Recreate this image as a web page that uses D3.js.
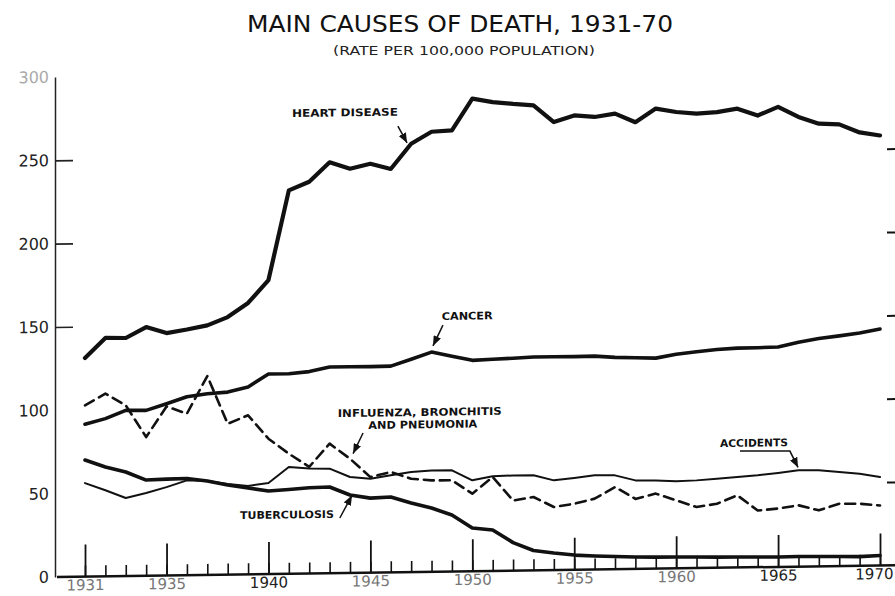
<!DOCTYPE html>
<html>
<head>
<meta charset="utf-8">
<script src="https://cdn.jsdelivr.net/npm/d3@7"></script>
<style>
  body { margin: 0; background: #fff; }
  svg { display: block; background: #fff; }
</style>
</head>
<body>
<svg id="chart" width="895" height="596"></svg>
<script>
// ---------------- DATA ----------------
const years = [1931,1932,1933,1934,1935,1936,1937,1938,1939,1940,
               1941,1942,1943,1944,1945,1946,1947,1948,1949,1950,
               1951,1952,1953,1954,1955,1956,1957,1958,1959,1960,
               1961,1962,1963,1964,1965,1966,1967,1968,1969,1970];

const heartDisease = [131.2,143,142.8,149.2,145.4,147.4,149.7,154.5,162.8,176.4,
                      230,235,246.5,242.5,245.3,242,257,264,264.7,283.5,
                      281.3,280,279,268.8,272.6,271.5,273.3,268,276,273.8,
                      272.6,273.4,275.3,271,276,269.8,265.6,265,260,258];

const cancer = [91.4,94.6,99.4,99.2,103,107,108.7,109.5,112.4,120,
                120,121.1,123.7,123.7,123.6,123.7,127.7,131.8,129.1,126.5,
                127,127.4,128,128,127.9,128,127.1,126.7,126.3,128.4,
                129.8,131,131.6,131.7,131.9,134.6,136.7,138.1,139.7,141.9];

const influenza = [102.7,109.6,102.4,83.2,101.4,96.9,119.3,90.5,95.4,81.2,
                   72,64,77.7,68.5,57.3,60.2,56,54.8,54.7,46.5,
                   56.3,42,44,37.8,39.6,42.5,49.3,42,45,40.8,
                   36.6,38.4,43.3,34,35,36.8,33.6,37.4,37.2,36];

const accidents = [56.1,51.6,46.8,49.6,53,56.9,56.3,54.3,53,54.6,
                   64,62.9,62.7,57.5,56.3,58.2,60,60.8,60.7,54.5,
                   56.8,57.1,57,53.8,55.1,56.5,56.3,53.1,52.9,52.3,
                   52.6,53.4,54.3,55.1,56.4,57.8,57.6,56.4,55.2,53.1];

const tuberculosis = [69.9,65.6,62.4,57.4,57.8,58,56.3,53.7,51.8,49.8,
                      50.5,51.4,51.7,46.7,44.7,45.2,41.4,38.2,33.9,25.9,
                      24.5,16.8,11.9,10.2,8.8,8.1,7.6,7.1,6.9,6.8,
                      6.6,6.4,6.3,6.1,5.9,6.1,5.9,5.7,5.5,6];

const majorYears = [1931,1935,1940,1945,1950,1955,1960,1965,1970];
const majorLabels = ["1931","1935","1940","1945","1950","1955","1960","1965","1970"];
const fadedLabels = ["1931","1935","1945","1950","1955","1960"];
const yTickValues = [0,50,100,150,200,250,300];
const yTickLabels = ["0","50","100","150","200","250","300"];
const innerTickValues = [150,200,250];
const rightTickValues = [50,100,150,200,250];

const titleText = "MAIN CAUSES OF DEATH, 1931-70";
const subtitleText = "(RATE PER 100,000 POPULATION)";

// annotation anchors in data space (year, rate)
const labelTexts = ["HEART DISEASE","CANCER","INFLUENZA, BRONCHITIS","AND PNEUMONIA","ACCIDENTS","TUBERCULOSIS"];
const labelYears = [1941.15,1948.5,1943.4,1944.9,1962.15,1938.6];
const labelRates = [274,151,93.6,86.2,72.4,33.2];
const labelLens  = [106,51,164,109,68,94];

const arrowYears = [[1946.35,1946.8],[1948.56,1948.07],[1944.64,1944.15],[1963.13,1965.58,1965.98],[1943.5,1944.1]];
const arrowRates = [[267.7,257.5],[147.9,135.5],[83.8,71.5],[69.9,69.4,59.5],[33,46.5]];

// ---------------- CHART ----------------
const W = 895, H = 596;
const svg = d3.select("#chart");
const ink = "#111";
const font = "'DejaVu Sans', 'Liberation Sans', sans-serif";

const x = d3.scaleLinear().domain([1931, 1970]).range([85, 880]);
const y = d3.scaleLinear().domain([0, 300]).range([577, 77]);
const axisX = 55;

// arrow marker
svg.append("defs").append("marker")
  .attr("id", "arrow")
  .attr("markerUnits", "userSpaceOnUse")
  .attr("viewBox", "0 0 10 8")
  .attr("refX", 10).attr("refY", 4)
  .attr("markerWidth", 10).attr("markerHeight", 8)
  .attr("orient", "auto")
  .append("path").attr("d", "M0,0 L10,4 L0,8 Z").attr("fill", ink);

// title
svg.append("text")
  .attr("x", 247).attr("y", 32)
  .attr("textLength", 426).attr("lengthAdjust", "spacingAndGlyphs")
  .attr("font-family", font).attr("font-size", 23).attr("fill", ink)
  .text(titleText);
svg.append("text")
  .attr("x", 333).attr("y", 55)
  .attr("textLength", 262).attr("lengthAdjust", "spacingAndGlyphs")
  .attr("font-family", font).attr("font-size", 13).attr("fill", "#222")
  .text(subtitleText);

// the scanned chart is slightly tilted
const plot = svg.append("g")
  .attr("transform", `translate(${axisX},0) skewY(-0.8) translate(${-axisX},0)`);

// left axis
const yAxis = plot.append("g").attr("transform", `translate(${axisX},0)`)
  .call(d3.axisLeft(y).tickValues(yTickValues).tickSize(0).tickPadding(6)
        .tickFormat((d, i) => yTickLabels[i]));
yAxis.select(".domain").attr("stroke", "#222").attr("stroke-width", 1.5);
yAxis.selectAll("text").attr("font-family", font).attr("font-size", 16)
  .attr("fill", d => d === 300 ? "#aaa" : "#222");

const yInner = plot.append("g").attr("transform", `translate(${axisX},0)`)
  .call(d3.axisRight(y).tickValues(innerTickValues).tickSize(18).tickFormat(""));
yInner.select(".domain").remove();
yInner.selectAll("line").attr("stroke", "#222").attr("stroke-width", 1.6);

// right edge tick marks
const yRight = plot.append("g").attr("transform", `translate(887,0)`)
  .call(d3.axisRight(y).tickValues(rightTickValues).tickSize(8).tickFormat(""));
yRight.select(".domain").remove();
yRight.selectAll("line").attr("stroke", ink).attr("stroke-width", 2);

// bottom axis baseline
plot.append("line")
  .attr("x1", axisX + 2).attr("x2", W)
  .attr("y1", y(0)).attr("y2", y(0))
  .attr("stroke", ink).attr("stroke-width", 2.5);

const xMinor = plot.append("g").attr("transform", `translate(0,${y(0)})`)
  .call(d3.axisBottom(x).tickValues(years).tickSize(-11).tickSizeOuter(0).tickFormat(""));
xMinor.select(".domain").remove();
xMinor.selectAll("line").attr("stroke", ink).attr("stroke-width", 1.6);

const xMajor = plot.append("g").attr("transform", `translate(0,${y(0)})`)
  .call(d3.axisBottom(x).tickValues(majorYears).tickSize(-32).tickSizeOuter(0).tickPadding(3)
        .tickFormat((d, i) => majorLabels[i]));
xMajor.select(".domain").remove();
xMajor.selectAll("line").attr("stroke", ink).attr("stroke-width", 1.8);
xMajor.selectAll("text").attr("font-family", font).attr("font-size", 15)
  .attr("fill", (d, i) => fadedLabels.includes(majorLabels[i]) ? "#777" : "#222");
// last label hugs the right edge, as in the reference
xMajor.selectAll("text").filter(d => d === 1970)
  .attr("text-anchor", "end").attr("dx", 13);

// series
const line = d3.line().x((d, i) => x(years[i])).y(d => y(d)).curve(d3.curveLinear);
const series = [
  { v: heartDisease, w: 4.2, dash: null },
  { v: cancer, w: 3.6, dash: null },
  { v: tuberculosis, w: 3.6, dash: null },
  { v: accidents, w: 2, dash: null },
  { v: influenza, w: 2.6, dash: "10,6" }
];
plot.selectAll("path.series").data(series).join("path")
  .attr("class", "series")
  .attr("d", d => line(d.v))
  .attr("fill", "none")
  .attr("stroke", ink)
  .attr("stroke-width", d => d.w)
  .attr("stroke-linejoin", "round")
  .attr("stroke-linecap", "round")
  .attr("stroke-dasharray", d => d.dash);

// annotations
plot.selectAll("text.note").data(labelTexts).join("text")
  .attr("class", "note")
  .attr("x", (d, i) => x(labelYears[i]))
  .attr("y", (d, i) => y(labelRates[i]))
  .attr("textLength", (d, i) => labelLens[i])
  .attr("lengthAdjust", "spacingAndGlyphs")
  .attr("font-family", font).attr("font-weight", "bold").attr("font-size", 10.5)
  .attr("fill", ink)
  .text(d => d);

const arrowLine = d3.line().x(d => x(d[0])).y(d => y(d[1]));
plot.selectAll("path.arrow").data(arrowYears).join("path")
  .attr("class", "arrow")
  .attr("d", (d, i) => arrowLine(d.map((yr, j) => [yr, arrowRates[i][j]])))
  .attr("fill", "none").attr("stroke", ink).attr("stroke-width", 1.5)
  .attr("marker-end", "url(#arrow)");
</script>
</body>
</html>
